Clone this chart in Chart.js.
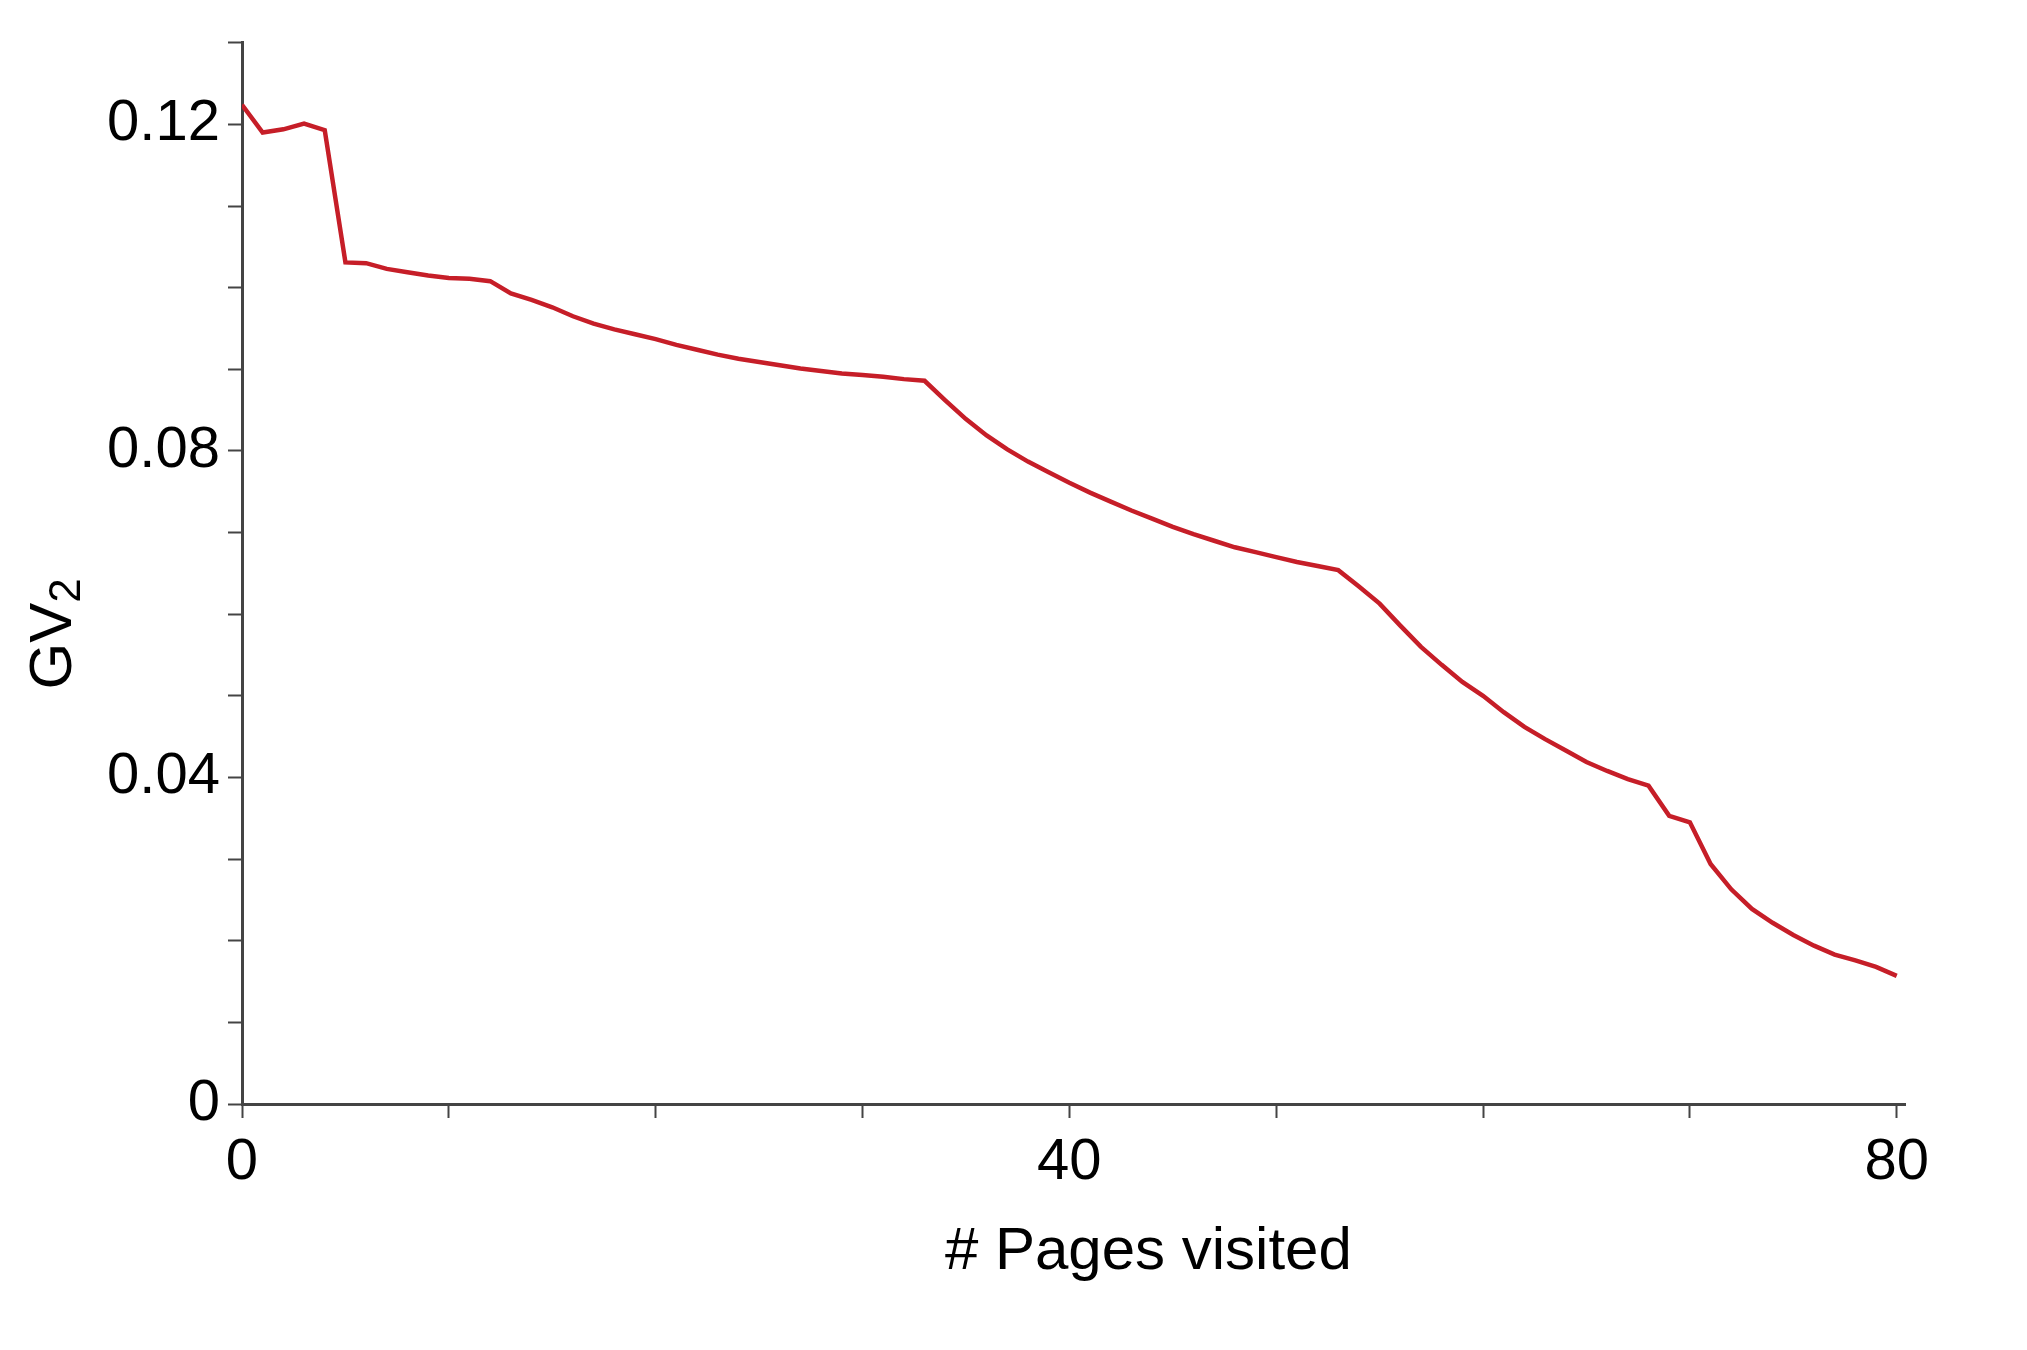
<!DOCTYPE html>
<html>
<head>
<meta charset="utf-8">
<script src="https://cdn.jsdelivr.net/npm/chart.js@4.4.1/dist/chart.umd.min.js"></script>
<style>
  html, body { margin: 0; padding: 0; background: #fff; }
  #wrap { width: 2027px; height: 1350px; position: relative; }
</style>
</head>
<body>
<div id="wrap"><canvas id="myChart"></canvas></div>
<script>
// pages visited (x) and GV2 value
const pages = [
    0, 1, 2, 3, 4, 5, 6, 7, 8, 9,
    10, 11, 12, 13, 14, 15, 16, 17, 18, 19,
    20, 21, 22, 23, 24, 25, 26, 27, 28, 29,
    30, 31, 32, 33, 34, 35, 36, 37, 38, 39,
    40, 41, 42, 43, 44, 45, 46, 47, 48, 49,
    50, 51, 52, 53, 54, 55, 56, 57, 58, 59,
    60, 61, 62, 63, 64, 65, 66, 67, 68, 69,
    70, 71, 72, 73, 74, 75, 76, 77, 78, 79,
    80
];
const gv2 = [
    0.1224, 0.1190, 0.1194, 0.1201, 0.1193, 0.1031, 0.1030, 0.1023, 0.1019, 0.1015,
    0.1012, 0.1011, 0.1008, 0.0993, 0.0985, 0.0976, 0.0965, 0.0956, 0.0949, 0.0943,
    0.0937, 0.0930, 0.0924, 0.0918, 0.0913, 0.0909, 0.0905, 0.0901, 0.0898, 0.0895,
    0.0893, 0.0891, 0.0888, 0.0886, 0.0862, 0.0839, 0.0819, 0.0802, 0.0787, 0.0774,
    0.0761, 0.0749, 0.0738, 0.0727, 0.0717, 0.0707, 0.0698, 0.0690, 0.0682, 0.0676,
    0.0670, 0.0664, 0.0659, 0.0654, 0.0634, 0.0613, 0.0586, 0.0560, 0.0538, 0.0517,
    0.0500, 0.0480, 0.0462, 0.0447, 0.0433, 0.0419, 0.0408, 0.0398, 0.0390, 0.0353,
    0.0345, 0.0294, 0.0263, 0.0239, 0.0222, 0.0207, 0.0194, 0.0183, 0.0176, 0.0168,
    0.0157
];
const xLabelTicks = [0, 40, 80];
const yLabelTicks = ['0', '0.04', '0.08', '0.12'];

const xTitle = '# Pages visited';
const yTitle = 'GV';
const yTitleSub = '2';

const FONT = '"Liberation Sans", Arial, Helvetica, sans-serif';
const AXIS = '#444';

// axis titles drawn by hand so the subscript and offsets match the figure
const axisTitles = {
    id: 'axisTitles',
    afterDraw(chart) {
        const c = chart.ctx;
        const a = chart.chartArea;
        c.save();
        c.fillStyle = '#000';

        c.font = '60px ' + FONT;
        c.textAlign = 'center';
        c.textBaseline = 'alphabetic';
        c.fillText(xTitle, a.left + (a.right - a.left) * 0.545, a.bottom + 165);

        c.translate(71, a.top + (a.bottom - a.top) * 0.557);
        c.rotate(-Math.PI / 2);
        c.textAlign = 'left';
        c.font = '60px ' + FONT;
        const w1 = c.measureText(yTitle).width;
        c.font = '44px ' + FONT;
        const w2 = c.measureText(yTitleSub).width;
        const x0 = -(w1 + w2) / 2;
        c.font = '60px ' + FONT;
        c.fillText(yTitle, x0, 0);
        c.font = '44px ' + FONT;
        c.fillText(yTitleSub, x0 + w1, 9);
        c.restore();
    }
};

const ctx = document.getElementById('myChart').getContext('2d');

const myChart = new Chart(ctx, {
    type: 'line',
    data: {
        datasets: [{
            data: pages.map((p, i) => ({ x: p, y: gv2[i] })),
            borderColor: 'rgb(198, 30, 40)',
            borderWidth: 4.5,
            pointRadius: 0,
            fill: false,
            tension: 0
        }]
    },
    options: {
        responsive: true,
        maintainAspectRatio: false,
        animation: false,
        layout: {
            padding: { top: 39, right: 122, bottom: 0, left: 0 }
        },
        plugins: {
            legend: { display: false },
            tooltip: { enabled: false }
        },
        scales: {
            x: {
                type: 'linear',
                min: 0,
                max: 80.4,
                afterFit: (scale) => { scale.height = 246; },
                border: { display: true, color: AXIS, width: 3 },
                grid: {
                    drawOnChartArea: false,
                    drawTicks: true,
                    tickLength: 14,
                    tickColor: AXIS,
                    tickWidth: 2
                },
                ticks: {
                    stepSize: 10,
                    includeBounds: false,
                    autoSkip: false,
                    maxRotation: 0,
                    padding: 10,
                    color: '#000',
                    font: { family: FONT, size: 58 },
                    callback: (v) => xLabelTicks.includes(v) ? String(v) : ''
                }
            },
            y: {
                min: 0,
                max: 0.13,
                afterFit: (scale) => { scale.width = 242; },
                border: { display: true, color: AXIS, width: 3 },
                grid: {
                    drawOnChartArea: false,
                    drawTicks: true,
                    tickLength: 14,
                    tickColor: AXIS,
                    tickWidth: 2
                },
                ticks: {
                    stepSize: 0.01,
                    autoSkip: false,
                    padding: 8,
                    color: '#000',
                    font: { family: FONT, size: 58 },
                    callback: (v) => {
                        const k = Math.round(v * 100);
                        return k % 4 === 0 ? yLabelTicks[k / 4] : '';
                    }
                }
            }
        }
    },
    plugins: [axisTitles]
});
</script>
</body>
</html>
